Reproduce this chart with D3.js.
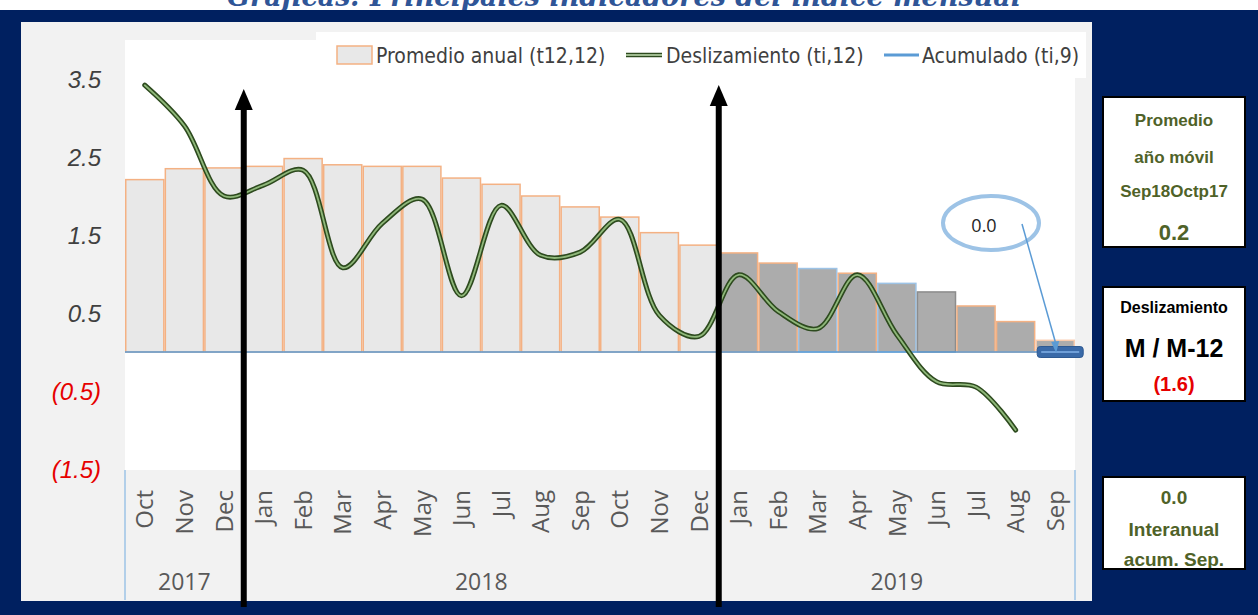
<!DOCTYPE html>
<html>
<head>
<meta charset="utf-8">
<script src="https://cdn.jsdelivr.net/npm/d3@7"></script>
<style>
  html, body { margin: 0; padding: 0; background: #ffffff; }
  svg { display: block; }
</style>
</head>
<body>
<svg id="chart" width="1258" height="615"></svg>
<script>
// ---------------- DATA ----------------
const months = ["Oct","Nov","Dec","Jan","Feb","Mar","Apr","May","Jun","Jul","Aug","Sep",
                "Oct","Nov","Dec","Jan","Feb","Mar","Apr","May","Jun","Jul","Aug","Sep"];
const years = ["2017","2017","2017",
               "2018","2018","2018","2018","2018","2018","2018","2018","2018","2018","2018","2018",
               "2019","2019","2019","2019","2019","2019","2019","2019","2019"];
const promedioAnual = [2.21,2.35,2.36,2.38,2.48,2.40,2.38,2.38,2.23,2.15,2.00,1.86,
                       1.73,1.53,1.37,1.27,1.14,1.07,1.01,0.88,0.77,0.59,0.39,0.15];
const deslizamiento = [3.42,2.90,2.00,2.14,2.33,1.08,1.65,1.96,0.72,1.88,1.24,1.28,
                       1.70,0.47,0.20,0.99,0.52,0.30,0.99,0.22,-0.38,-0.45,-1.00,null];
const acumulado = [null,null,null,null,null,null,null,null,null,null,null,null,
                   null,null,null,null,null,null,null,null,null,null,null,0.0];
const yTicks = [3.5,2.5,1.5,0.5,-0.5,-1.5];
const legendLabels = ["Promedio anual (t12,12)","Deslizamiento (ti,12)","Acumulado (ti,9)"];
const titleText = "Gráficas: Principales indicadores del índice mensual";
const box1Lines = ["Promedio","año móvil","Sep18Octp17","0.2"];
const box2Lines = ["Deslizamiento","M  / M-12","(1.6)"];
const box3Lines = ["0.0","Interanual","acum. Sep."];
const calloutValue = "0.0";
const yearMarks = [3, 15]; // index of first month of 2018 and 2019

// ---------------- STYLE ----------------
const NAVY = "#002060";
const stroke2019 = ["#f4b183","#f4b183","#9dc3e6","#f4b183","#9dc3e6","#8c8c8c","#f4b183","#f4b183","#f8cbad"];

const svg = d3.select("#chart");

// backgrounds
svg.append("rect").attr("x",0).attr("y",0).attr("width",1258).attr("height",615).attr("fill","#ffffff");
svg.append("text").attr("x",624).attr("y",6).attr("text-anchor","middle")
  .attr("font-family","'DejaVu Serif', 'Liberation Serif', serif")
  .attr("font-weight","bold").attr("font-style","italic").attr("font-size",27)
  .attr("fill","#2f5597").text(titleText);
svg.append("rect").attr("x",0).attr("y",10).attr("width",1258).attr("height",605).attr("fill",NAVY);
svg.append("rect").attr("x",21).attr("y",22).attr("width",1071).attr("height",579).attr("fill","#f2f2f2");

// plot area
const x = d3.scaleBand().domain(d3.range(months.length)).range([125,1075]).padding(0);
const y = d3.scaleLinear().domain([-1.5,3.5]).range([469,79]);
const bw = x.bandwidth();

svg.append("rect").attr("x",125).attr("y",40).attr("width",950).attr("height",430).attr("fill","#ffffff");
// legend box
svg.append("rect").attr("x",316).attr("y",32).attr("width",770).attr("height",46).attr("fill","#ffffff");

// bars
svg.append("g").selectAll("rect").data(promedioAnual).join("rect")
  .attr("x",(d,i)=>x(i)+0.75)
  .attr("y",d=>y(d))
  .attr("width",bw-1.5)
  .attr("height",d=>y(0)-y(d))
  .attr("fill",(d,i)=>years[i]==="2019" ? "#acacac" : "#e8e8e8")
  .attr("stroke",(d,i)=>years[i]==="2019" ? stroke2019[i-15] : "#f4b183")
  .attr("stroke-width",1.5);

// zero line
svg.append("line").attr("x1",125).attr("x2",1075).attr("y1",y(0)).attr("y2",y(0))
  .attr("stroke","#5b9bd5").attr("stroke-width",1.5);

// deslizamiento line (double line)
const line = d3.line()
  .defined(d=>d!=null)
  .x((d,i)=>x(i)+bw/2)
  .y(d=>y(d))
  .curve(d3.curveCatmullRom.alpha(0.5));
svg.append("path").datum(deslizamiento).attr("d",line).attr("fill","none")
  .attr("stroke","#2d4a1e").attr("stroke-width",5).attr("stroke-linecap","round");
svg.append("path").datum(deslizamiento).attr("d",line).attr("fill","none")
  .attr("stroke","#8fb87a").attr("stroke-width",1.8).attr("stroke-linecap","round");

// acumulado marker
acumulado.forEach((v,i)=>{
  if (v==null) return;
  const cx = x(i)+bw/2;
  svg.append("rect").attr("x",cx-18).attr("y",y(v)-5.5).attr("width",46).attr("height",11)
    .attr("rx",3).attr("fill","#3a6aa8").attr("stroke","#2e5a92").attr("stroke-width",1);
  svg.append("line").attr("x1",cx-14).attr("x2",cx+24).attr("y1",y(v)).attr("y2",y(v))
    .attr("stroke","#6f9fd8").attr("stroke-width",2);
  // callout
  const ex = cx+1, ey = y(v)+1;
  svg.append("ellipse").attr("cx",991).attr("cy",223).attr("rx",48).attr("ry",27)
    .attr("fill","#ffffff").attr("stroke","#9dc3e6").attr("stroke-width",4);
  svg.append("text").attr("x",984).attr("y",232).attr("text-anchor","middle")
    .attr("font-family","'Open Sans', sans-serif").attr("font-size",18).attr("fill","#262626")
    .text(calloutValue);
  svg.append("line").attr("x1",1022).attr("y1",224).attr("x2",ex).attr("y2",ey-8)
    .attr("stroke","#5b9bd5").attr("stroke-width",1.5);
  svg.append("path").attr("d",`M${ex},${ey} L${ex-5},${ey-11} L${ex+3},${ey-12} Z`).attr("fill","#5b9bd5");
});

// y axis
const yAxis = svg.append("g").attr("transform","translate(101,0)")
  .call(d3.axisLeft(y).tickValues(yTicks).tickSize(0).tickPadding(0)
    .tickFormat(v=> v<0 ? `(${Math.abs(v).toFixed(1)})` : v.toFixed(1)));
yAxis.select(".domain").remove();
yAxis.selectAll("text")
  .attr("font-family","'Liberation Sans', Arial, sans-serif")
  .attr("font-style","italic").attr("font-size",24)
  .attr("fill",d=> d<0 ? "#e60000" : "#404040")
  .attr("dy","0.35em");

// x axis
svg.append("line").attr("x1",125).attr("x2",125).attr("y1",470).attr("y2",600).attr("stroke","#9dc3e6").attr("stroke-width",1.5);
svg.append("line").attr("x1",1075).attr("x2",1075).attr("y1",470).attr("y2",600).attr("stroke","#9dc3e6").attr("stroke-width",1.5);
const xAxis = svg.append("g").attr("transform","translate(0,470)")
  .call(d3.axisBottom(x).tickSize(0).tickFormat(i=>months[i]));
xAxis.select(".domain").remove();
xAxis.selectAll("text")
  .attr("transform","rotate(-90)")
  .attr("x",-20).attr("y",0).attr("dy","0.36em")
  .attr("text-anchor","end")
  .attr("font-family","'Open Sans', sans-serif").attr("font-size",24).attr("fill","#595959");

// year labels
const yearGroups = d3.groups(d3.range(months.length), i=>years[i]);
svg.append("g").selectAll("text").data(yearGroups).join("text")
  .attr("x",g=>(x(g[1][0]) + x(g[1][g[1].length-1]) + bw)/2)
  .attr("y",590).attr("text-anchor","middle")
  .attr("font-family","'Open Sans', sans-serif").attr("font-size",23).attr("fill","#595959")
  .text(g=>g[0]);

// legend
const lg = svg.append("g").attr("font-family","'DejaVu Sans Condensed', 'Liberation Sans Narrow', sans-serif")
  .attr("font-size",21).attr("fill","#404040");
lg.append("rect").attr("x",337).attr("y",46).attr("width",35).attr("height",18)
  .attr("fill","#e8e8e8").attr("stroke","#f4b183").attr("stroke-width",1.5);
lg.append("text").attr("x",376).attr("y",63).text(legendLabels[0]);
lg.append("line").attr("x1",626).attr("x2",662).attr("y1",55).attr("y2",55).attr("stroke","#2d4a1e").attr("stroke-width",4.5);
lg.append("line").attr("x1",626).attr("x2",662).attr("y1",55).attr("y2",55).attr("stroke","#c5e0b4").attr("stroke-width",1.5);
lg.append("text").attr("x",666).attr("y",63).text(legendLabels[1]);
lg.append("line").attr("x1",884).attr("x2",919).attr("y1",55).attr("y2",55).attr("stroke","#5b9bd5").attr("stroke-width",3);
lg.append("text").attr("x",922).attr("y",63).text(legendLabels[2]);

// arrows at year boundaries
yearMarks.forEach((idx,k)=>{
  const ax = x(idx);
  const tipY = k===0 ? 89 : 85;
  const g = svg.append("g");
  g.append("rect").attr("x",ax-3).attr("y",tipY+18).attr("width",6).attr("height",607-tipY-18).attr("fill","#000");
  g.append("path").attr("d",`M${ax},${tipY} L${ax-9},${tipY+21} L${ax+9},${tipY+21} Z`).attr("fill","#000");
});

// right side boxes
const OLIVE = "#4f6228";
function box(y0, h, lines, sizes, colors, baselines, clipId){
  const g = svg.append("g");
  g.append("rect").attr("x",1103).attr("y",y0).attr("width",142).attr("height",h)
    .attr("fill","#ffffff").attr("stroke","#000").attr("stroke-width",2);
  const cp = svg.append("clipPath").attr("id",clipId);
  cp.append("rect").attr("x",1103).attr("y",y0).attr("width",142).attr("height",h);
  const tg = g.append("g").attr("clip-path",`url(#${clipId})`);
  lines.forEach((t,i)=>{
    tg.append("text").attr("x",1174).attr("y",baselines[i]).attr("text-anchor","middle")
      .attr("font-family","'Liberation Sans', Arial, sans-serif").attr("font-weight","bold")
      .attr("font-size",sizes[i]).attr("fill",colors[i]).text(t);
  });
  g.append("rect").attr("x",1103).attr("y",y0).attr("width",142).attr("height",h)
    .attr("fill","none").attr("stroke","#000").attr("stroke-width",2);
}
box(97,150,box1Lines,[17,17,17,22],[OLIVE,OLIVE,OLIVE,OLIVE],[126,163,197,240],"c1");
box(287,114,box2Lines,[16,25,20],["#000","#000","#e60000"],[313,357,391],"c2");
box(477,92,box3Lines,[19,19,19],[OLIVE,OLIVE,OLIVE],[504,536,566],"c3");
</script>
</body>
</html>
